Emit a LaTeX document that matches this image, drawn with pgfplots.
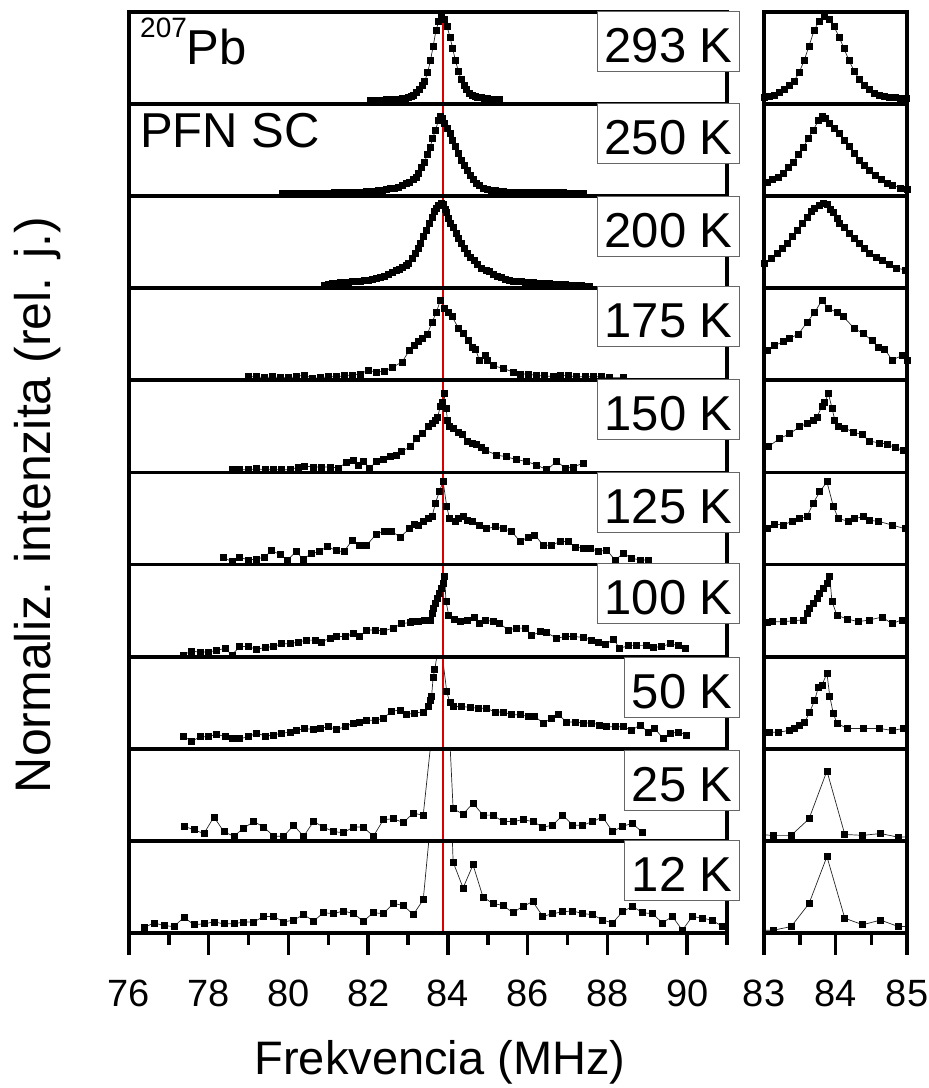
\documentclass[border=0pt]{standalone}
\usepackage{pgfplots}
\pgfplotsset{compat=1.18}
\usepackage{pgfplotstable}
\usepackage{fontspec}
\setmainfont{Liberation Sans}

% 293 K
\pgfplotstableread{
x y
82.05 0.04
82.15 0.04
82.25 0.04
82.35 0.04
82.45 0.05
82.55 0.05
82.65 0.05
82.75 0.05
82.85 0.06
82.93 0.06
83.0 0.07
83.07 0.08
83.14 0.10
83.21 0.13
83.28 0.16
83.35 0.20
83.42 0.25
83.49 0.34
83.56 0.47
83.63 0.63
83.70 0.80
83.77 0.90
83.84 0.95
83.91 0.92
83.98 0.84
84.05 0.73
84.12 0.60
84.19 0.47
84.26 0.36
84.33 0.27
84.40 0.20
84.47 0.16
84.54 0.12
84.61 0.10
84.68 0.08
84.75 0.07
84.83 0.07
84.91 0.06
84.99 0.06
85.07 0.05
85.15 0.05
85.23 0.05
85.3 0.05
}\tA
% 250 K
\pgfplotstableread{
x y
79.85 0.03
79.95 0.03
80.05 0.03
80.15 0.03
80.25 0.03
80.35 0.03
80.45 0.03
80.55 0.03
80.65 0.03
80.75 0.03
80.85 0.03
80.95 0.03
81.05 0.03
81.15 0.04
81.25 0.04
81.35 0.04
81.45 0.04
81.55 0.04
81.65 0.04
81.75 0.04
81.85 0.04
81.95 0.05
82.05 0.05
82.15 0.05
82.25 0.06
82.35 0.06
82.45 0.07
82.55 0.08
82.65 0.09
82.75 0.10
82.85 0.12
82.95 0.14
83.04 0.15
83.12 0.18
83.20 0.21
83.27 0.25
83.34 0.31
83.41 0.37
83.48 0.45
83.55 0.53
83.62 0.63
83.69 0.72
83.76 0.82
83.81 0.87
83.86 0.84
83.92 0.79
83.98 0.74
84.05 0.68
84.12 0.61
84.19 0.54
84.26 0.46
84.33 0.39
84.40 0.33
84.48 0.28
84.56 0.23
84.64 0.18
84.72 0.14
84.80 0.12
84.90 0.09
85.0 0.07
85.1 0.06
85.2 0.06
85.3 0.05
85.4 0.05
85.5 0.04
85.6 0.04
85.7 0.04
85.8 0.04
85.9 0.04
86.0 0.04
86.1 0.04
86.2 0.04
86.3 0.04
86.4 0.04
86.5 0.04
86.6 0.04
86.7 0.04
86.8 0.04
86.9 0.04
87.0 0.03
87.1 0.03
87.2 0.03
87.3 0.03
87.4 0.03
}\tB
% 200 K
\pgfplotstableread{
x y
80.9 0.03
81.0 0.04
81.1 0.05
81.2 0.05
81.3 0.06
81.4 0.06
81.5 0.06
81.6 0.07
81.7 0.07
81.8 0.08
81.9 0.09
82.0 0.09
82.1 0.10
82.2 0.11
82.3 0.12
82.4 0.13
82.5 0.15
82.6 0.17
82.7 0.19
82.78 0.21
82.85 0.23
82.95 0.25
83.01 0.27
83.10 0.32
83.18 0.38
83.25 0.43
83.32 0.49
83.39 0.56
83.46 0.63
83.53 0.70
83.60 0.77
83.66 0.83
83.71 0.87
83.77 0.90
83.83 0.92
83.88 0.91
83.93 0.86
83.97 0.82
84.02 0.76
84.06 0.71
84.13 0.66
84.20 0.60
84.27 0.54
84.34 0.49
84.41 0.43
84.48 0.38
84.57 0.34
84.66 0.30
84.75 0.26
84.85 0.22
84.97 0.20
85.05 0.18
85.15 0.15
85.25 0.13
85.35 0.12
85.45 0.10
85.55 0.09
85.65 0.08
85.75 0.07
85.85 0.07
85.95 0.06
86.05 0.06
86.15 0.06
86.25 0.05
86.35 0.05
86.45 0.05
86.55 0.05
86.65 0.04
86.75 0.04
86.85 0.04
86.95 0.04
87.05 0.03
87.15 0.03
87.25 0.03
87.35 0.03
87.45 0.02
87.55 0.02
}\tC
% 175 K
\pgfplotstableread{
x y
79.0 0.04
79.2 0.04
79.4 0.03
79.6 0.04
79.8 0.03
80.0 0.03
80.2 0.04
80.4 0.06
80.6 0.02
80.8 0.03
81.0 0.04
81.2 0.04
81.4 0.05
81.6 0.06
81.8 0.07
82.0 0.11
82.2 0.09
82.4 0.10
82.6 0.14
82.85 0.20
83.04 0.33
83.15 0.38
83.27 0.42
83.36 0.46
83.48 0.50
83.60 0.63
83.71 0.74
83.81 0.87
83.90 0.78
84.02 0.74
84.11 0.69
84.27 0.56
84.39 0.51
84.51 0.43
84.60 0.36
84.69 0.34
84.79 0.22
84.93 0.27
85.0 0.22
85.14 0.16
85.39 0.13
85.64 0.09
85.81 0.07
86.02 0.07
86.23 0.05
86.43 0.05
86.64 0.04
86.81 0.06
87.02 0.05
87.23 0.04
87.44 0.04
87.65 0.04
87.86 0.04
88.06 0.03
88.4 0.03
}\tD
% 150 K
\pgfplotstableread{
x y
78.58 0.03
78.78 0.03
78.99 0.03
79.2 0.04
79.41 0.03
79.62 0.03
79.83 0.03
80.04 0.03
80.25 0.06
80.41 0.07
80.62 0.06
80.83 0.06
81.04 0.06
81.25 0.05
81.46 0.11
81.63 0.13
81.75 0.08
81.88 0.12
82.04 0.05
82.21 0.12
82.38 0.14
82.55 0.17
82.71 0.19
82.84 0.23
83.06 0.28
83.22 0.37
83.36 0.42
83.50 0.50
83.60 0.53
83.69 0.57
83.74 0.60
83.81 0.72
83.85 0.76
83.90 0.86
83.95 0.70
83.99 0.57
84.04 0.50
84.13 0.48
84.25 0.44
84.37 0.41
84.48 0.34
84.62 0.32
84.72 0.31
84.83 0.27
84.95 0.24
85.22 0.19
85.47 0.17
85.72 0.14
85.97 0.12
86.23 0.08
86.48 0.03
86.73 0.12
86.94 0.05
87.14 0.06
87.39 0.10
}\tE
% 125 K
\pgfplotstableread{
x y
78.37 0.08
78.58 0.03
78.78 0.08
78.99 0.05
79.19 0.06
79.39 0.08
79.58 0.15
79.79 0.11
79.98 0.05
80.19 0.14
80.37 0.06
80.58 0.12
80.77 0.14
80.98 0.20
81.19 0.15
81.39 0.14
81.59 0.26
81.78 0.21
81.96 0.21
82.20 0.33
82.40 0.36
82.59 0.36
82.80 0.30
83.04 0.39
83.15 0.44
83.27 0.43
83.39 0.47
83.50 0.50
83.60 0.52
83.69 0.67
83.78 0.79
83.88 0.90
83.97 0.63
84.04 0.50
84.18 0.47
84.27 0.50
84.39 0.52
84.48 0.48
84.60 0.47
84.79 0.43
84.97 0.39
85.18 0.41
85.39 0.39
85.60 0.36
85.81 0.25
86.02 0.30
86.18 0.32
86.39 0.21
86.60 0.21
86.81 0.25
87.02 0.25
87.19 0.19
87.39 0.18
87.56 0.18
87.77 0.14
87.98 0.16
88.19 0.05
88.40 0.12
88.61 0.07
88.82 0.05
89.02 0.05
}\tF
% 100 K
\pgfplotstableread{
x y
77.36 0.02
77.57 0.06
77.78 0.05
77.99 0.05
78.20 0.07
78.41 0.09
78.58 0.02
78.78 0.11
78.99 0.11
79.20 0.08
79.41 0.10
79.62 0.11
79.83 0.14
80.04 0.14
80.25 0.16
80.46 0.18
80.67 0.18
80.83 0.16
81.04 0.20
81.21 0.22
81.42 0.22
81.63 0.25
81.79 0.22
81.96 0.29
82.17 0.29
82.38 0.28
82.63 0.31
82.84 0.36
83.05 0.37
83.11 0.38
83.27 0.38
83.41 0.39
83.55 0.40
83.60 0.47
83.64 0.52
83.69 0.58
83.74 0.63
83.78 0.69
83.83 0.74
83.88 0.80
83.92 0.87
83.95 0.60
84.02 0.45
84.16 0.41
84.32 0.38
84.48 0.40
84.65 0.43
84.79 0.36
84.93 0.40
85.14 0.38
85.30 0.36
85.51 0.29
85.72 0.31
85.93 0.31
86.10 0.23
86.31 0.27
86.48 0.26
86.73 0.20
86.94 0.22
87.14 0.22
87.39 0.21
87.60 0.18
87.77 0.16
87.94 0.13
88.15 0.19
88.31 0.09
88.52 0.12
88.73 0.12
88.98 0.12
89.15 0.10
89.36 0.11
89.57 0.14
89.78 0.12
89.95 0.09
}\tG
% 50 K
\pgfplotstableread{
x y
77.36 0.14
77.57 0.08
77.78 0.13
77.99 0.13
78.20 0.16
78.41 0.13
78.58 0.11
78.78 0.11
78.99 0.13
79.20 0.17
79.41 0.14
79.62 0.15
79.83 0.17
80.04 0.18
80.20 0.20
80.41 0.22
80.62 0.21
80.79 0.22
81.00 0.24
81.21 0.21
81.42 0.24
81.63 0.28
81.79 0.29
81.96 0.31
82.17 0.31
82.38 0.33
82.59 0.41
82.80 0.42
82.96 0.37
83.17 0.39
83.38 0.40
83.50 0.46
83.55 0.53
83.59 0.57
83.63 0.78
83.67 0.86
83.80 1.22
83.97 0.62
84.05 0.50
84.13 0.46
84.34 0.46
84.55 0.45
84.76 0.44
84.97 0.44
85.18 0.40
85.39 0.40
85.60 0.37
85.81 0.37
86.02 0.35
86.18 0.35
86.39 0.28
86.60 0.33
86.77 0.37
86.98 0.29
87.19 0.29
87.39 0.28
87.60 0.28
87.81 0.26
87.98 0.24
88.19 0.24
88.40 0.24
88.61 0.20
88.82 0.26
89.02 0.18
89.19 0.22
89.40 0.11
89.57 0.17
89.78 0.18
89.99 0.15
}\tH
% 25 K
\pgfplotstableread{
x y
77.38 0.16
77.63 0.12
77.88 0.08
78.13 0.26
78.38 0.10
78.63 0.05
78.88 0.14
79.13 0.21
79.38 0.15
79.63 0.05
79.88 0.05
80.13 0.17
80.38 0.05
80.63 0.21
80.88 0.15
81.13 0.10
81.38 0.09
81.63 0.15
81.88 0.15
82.13 0.05
82.38 0.23
82.63 0.24
82.88 0.20
83.13 0.30
83.38 0.28
83.63 1.30
83.88 2.60
84.13 0.35
84.38 0.29
84.63 0.41
84.88 0.28
85.13 0.28
85.38 0.21
85.63 0.21
85.88 0.23
86.13 0.21
86.38 0.15
86.63 0.17
86.88 0.28
87.13 0.17
87.38 0.17
87.63 0.21
87.88 0.26
88.13 0.10
88.38 0.16
88.63 0.19
88.88 0.09
}\tI
% 12 K
\pgfplotstableread{
x y
76.38 0.06
76.63 0.11
76.88 0.08
77.13 0.07
77.38 0.17
77.63 0.09
77.88 0.10
78.13 0.12
78.38 0.10
78.63 0.10
78.88 0.12
79.13 0.12
79.38 0.18
79.63 0.18
79.88 0.12
80.13 0.14
80.38 0.20
80.63 0.13
80.88 0.22
81.13 0.21
81.38 0.24
81.63 0.21
81.88 0.13
82.13 0.22
82.38 0.21
82.63 0.32
82.88 0.30
83.13 0.20
83.38 0.36
83.63 1.50
83.88 4.00
84.13 0.77
84.38 0.49
84.63 0.74
84.88 0.39
85.13 0.32
85.38 0.30
85.63 0.22
85.88 0.29
86.13 0.34
86.38 0.18
86.63 0.21
86.88 0.23
87.13 0.24
87.38 0.21
87.63 0.20
87.88 0.14
88.13 0.11
88.38 0.23
88.63 0.29
88.88 0.22
89.13 0.21
89.38 0.11
89.63 0.18
89.88 0.03
90.13 0.18
90.38 0.16
90.63 0.14
90.88 0.07
}\tJ
% right-panel versions (rescaled) for 50, 25, 12 K
\pgfplotstableread{
x y
82.85 0.18
83.08 0.18
83.20 0.18
83.36 0.20
83.43 0.22
83.50 0.26
83.57 0.29
83.64 0.40
83.71 0.53
83.76 0.67
83.81 0.69
83.88 0.82
83.92 0.57
83.97 0.38
84.02 0.28
84.16 0.22
84.39 0.22
84.62 0.22
84.79 0.20
84.95 0.22
85.10 0.20
}\rH
\pgfplotstableread{
x y
82.88 0.07
83.13 0.06
83.38 0.06
83.63 0.24
83.88 0.76
84.13 0.07
84.38 0.06
84.63 0.08
84.88 0.04
85.13 0.05
}\rI
\pgfplotstableread{
x y
82.88 0.03
83.13 0.03
83.38 0.07
83.63 0.32
83.88 0.83
84.13 0.16
84.38 0.09
84.63 0.14
84.88 0.07
85.13 0.07
}\rJ

\pgfplotsset{
  panel/.style={scale only axis, height=92.1pt, ymin=0, ymax=1,
    ytick=\empty, xtick=\empty, axis line style={draw=none},
    anchor=south west, clip=true,
    after end axis/.append code={\draw[black, line width=3.8pt]
      (rel axis cs:0,0) rectangle (rel axis cs:1,1);}},
  L/.style={panel, width=598pt, xmin=76, xmax=91},
  R/.style={panel, width=143pt, xmin=83, xmax=85},
  dat/.style={color=black!85, line width=0.7pt, mark=square*, mark size=3pt,
    mark options={solid, fill=black, draw=black}},
  redline/.style={color=red!85!black, line width=1.5pt, mark=none},
  bott/.style={xtick pos=bottom, tick align=outside,
    major tick length=22pt, minor tick length=12pt,
    tick style={black, line width=3.5pt},
    major tick style={black, line width=3.5pt},
    minor tick style={black, line width=3.5pt},
    /pgf/number format/assume math mode=true,
    xticklabel style={font=\fontsize{38}{38}\selectfont, anchor=base, yshift=-52pt}},
}
\newcommand{\panelL}[2]{%
\begin{axis}[L, at={(129pt,#1)}]
\addplot[dat] table {#2};
\addplot[redline] coordinates {(83.88,-0.2) (83.88,1.2)};
\end{axis}}
\newcommand{\panelR}[2]{%
\begin{axis}[R, at={(764pt,#1)}]
\addplot[dat] table {#2};
\end{axis}}

\begin{document}
\begin{tikzpicture}
\useasboundingbox (0pt,0pt) rectangle (929pt,1088pt);
\panelL{983.9pt}{\tA}
\panelL{891.8pt}{\tB}
\panelL{799.7pt}{\tC}
\panelL{707.6pt}{\tD}
\panelL{615.5pt}{\tE}
\panelL{523.4pt}{\tF}
\panelL{431.3pt}{\tG}
\panelL{339.2pt}{\tH}
\panelL{247.1pt}{\tI}
\begin{axis}[L, bott, at={(129pt,155pt)}, xtick={76,78,...,90}, minor xtick={77,79,...,91}]
\addplot[dat] table {\tJ};
\addplot[redline] coordinates {(83.88,-0.2) (83.88,1.2)};
\end{axis}
\panelR{983.9pt}{\tA}
\panelR{891.8pt}{\tB}
\panelR{799.7pt}{\tC}
\panelR{707.6pt}{\tD}
\panelR{615.5pt}{\tE}
\panelR{523.4pt}{\tF}
\panelR{431.3pt}{\tG}
\panelR{339.2pt}{\rH}
\panelR{247.1pt}{\rI}
\begin{axis}[R, bott, at={(764pt,155pt)}, xtick={83,84,85}, minor xtick={83.5,84.5}]
\addplot[dat] table {\rJ};
\end{axis}

\tikzset{tbox/.style={draw=black!60, line width=0.8pt, fill=white, anchor=north east,
  inner xsep=7pt, inner ysep=0pt, text height=51pt, text depth=9pt,
  font=\fontsize{49}{49}\selectfont}}
\node[tbox] at (740pt,1077pt) {293 K};
\node[tbox] at (740pt,985pt) {250 K};
\node[tbox] at (740pt,892pt) {200 K};
\node[tbox] at (740pt,802pt) {175 K};
\node[tbox] at (740pt,709pt) {150 K};
\node[tbox] at (740pt,616pt) {125 K};
\node[tbox] at (740pt,525pt) {100 K};
\node[tbox] at (740pt,431pt) {50 K};
\node[tbox] at (740pt,338pt) {25 K};
\node[tbox] at (740pt,248pt) {12 K};

\node[anchor=base west, inner sep=0pt, font=\fontsize{49}{49}\selectfont] at (140pt,1023pt)
  {\raisebox{27pt}{\fontsize{28}{28}\selectfont 207}Pb};
\node[anchor=base west, inner sep=0pt, font=\fontsize{49}{49}\selectfont] at (140pt,940pt) {PFN SC};
\node[rotate=90, anchor=base, inner sep=0pt, font=\fontsize{50}{50}\selectfont] at (50pt,583pt)
  {Normaliz. intenzita (rel. j.)};
\node[anchor=base, inner sep=0pt, font=\fontsize{47}{47}\selectfont] at (440pt,13pt) {Frekvencia (MHz)};
\end{tikzpicture}
\end{document}
